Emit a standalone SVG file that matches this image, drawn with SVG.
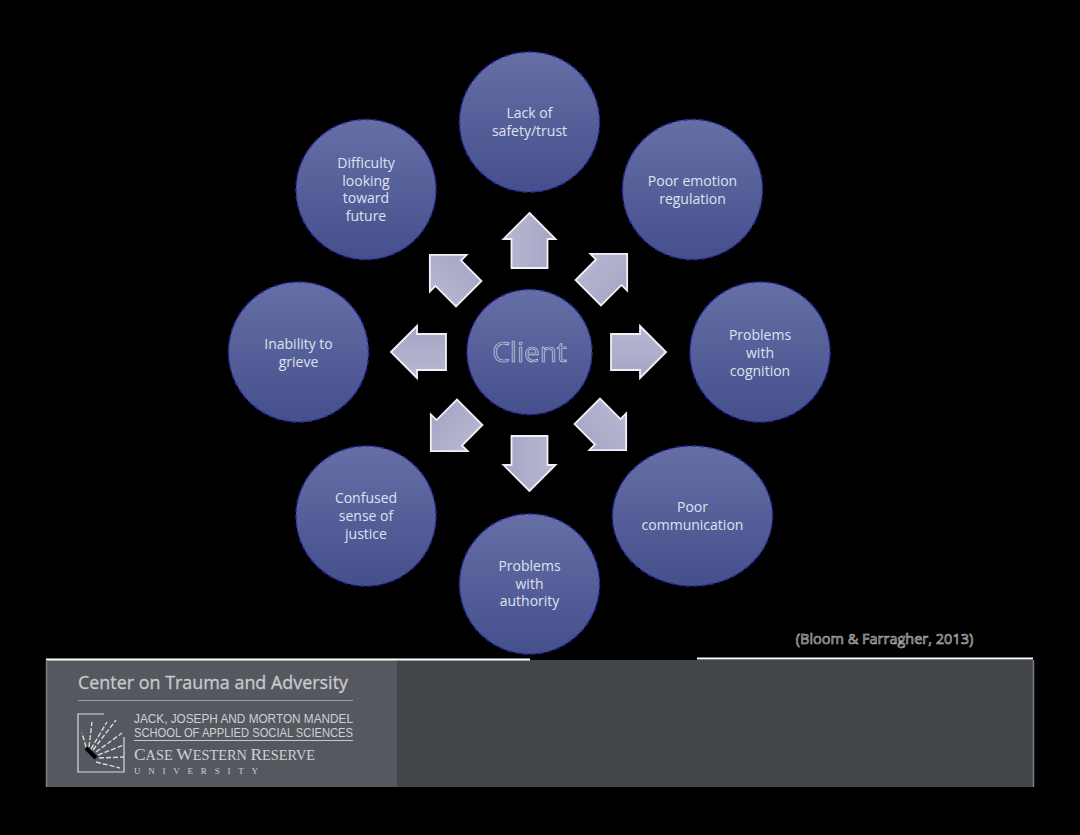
<svg xmlns="http://www.w3.org/2000/svg" width="1080" height="835" viewBox="0 0 1080 835">
<style>
.c{fill:url(#cg);stroke:#2a2aa8;stroke-width:1.5;stroke-dasharray:5 3}
.a{fill:url(#ag);stroke:#f0f0f5;stroke-width:1.8;stroke-linejoin:miter}
.t{font-family:"Open Sans","Noto Sans",sans-serif;font-size:14px;fill:#dfe2ee;text-anchor:middle}
.l{font-family:"Liberation Sans",sans-serif;font-size:12px;fill:#cfd0d4}
</style>
<defs>
<linearGradient id="cg" x1="0" y1="0" x2="0" y2="1"><stop offset="0" stop-color="#666fa5"/><stop offset="1" stop-color="#454f8c"/></linearGradient>
<linearGradient id="ag" x1="0" y1="0" x2="1" y2="0"><stop offset="0" stop-color="#b9b8d2"/><stop offset="1" stop-color="#a5a4c4"/></linearGradient>
<path id="arrow" d="M0 -37 L26 -11 L18 -11 L18 18 L-18 18 L-18 -11 L-26 -11 Z"/>
</defs>
<rect width="1080" height="835" fill="#000"/>
<g id="connectors">
<use href="#arrow" class="a" transform="translate(529.500 250)"/>
<use href="#arrow" class="a" transform="translate(601 280) rotate(45)"/>
<use href="#arrow" class="a" transform="translate(629 352) rotate(90)"/>
<use href="#arrow" class="a" transform="translate(600 424) rotate(135)"/>
<use href="#arrow" class="a" transform="translate(529.500 454) rotate(180)"/>
<use href="#arrow" class="a" transform="translate(457 425) rotate(225)"/>
<use href="#arrow" class="a" transform="translate(428 352) rotate(270)"/>
<use href="#arrow" class="a" transform="translate(456 281) rotate(315)"/>
</g>
<g id="node-client"><circle class="c" cx="529.500" cy="352" r="62.500"/><text x="529.500" y="362" font-family="Open Sans,sans-serif" font-size="28" fill="#5b659f" stroke="#cdd1e4" stroke-width=".7" text-anchor="middle">Client</text></g>
<g id="node-safety"><circle class="c" cx="529.500" cy="122" r="70"/><text class="t" x="529.500" y="118">Lack of</text><text class="t" x="529.500" y="136">safety/trust</text></g>
<g id="node-emotion"><circle class="c" cx="692.500" cy="189.500" r="70"/><text class="t" x="692.500" y="186">Poor emotion</text><text class="t" x="692.500" y="204">regulation</text></g>
<g id="node-cognition"><circle class="c" cx="760" cy="352" r="70"/><text class="t" x="760" y="340">Problems</text><text class="t" x="760" y="358">with</text><text class="t" x="760" y="376">cognition</text></g>
<g id="node-communication"><ellipse class="c" cx="692.500" cy="516" rx="80" ry="70"/><text class="t" x="692.500" y="512">Poor</text><text class="t" x="692.500" y="530">communication</text></g>
<g id="node-authority"><circle class="c" cx="529.500" cy="584" r="70"/><text class="t" x="529.500" y="571">Problems</text><text class="t" x="529.500" y="589">with</text><text class="t" x="529.500" y="606">authority</text></g>
<g id="node-justice"><circle class="c" cx="366" cy="516" r="70"/><text class="t" x="366" y="503">Confused</text><text class="t" x="366" y="521">sense of</text><text class="t" x="366" y="539">justice</text></g>
<g id="node-grieve"><circle class="c" cx="298.500" cy="352" r="70"/><text class="t" x="298.500" y="349">Inability to</text><text class="t" x="298.500" y="367">grieve</text></g>
<g id="node-future"><circle class="c" cx="366" cy="189.500" r="70"/><text class="t" x="366" y="168">Difficulty</text><text class="t" x="366" y="186">looking</text><text class="t" x="366" y="203">toward</text><text class="t" x="366" y="221">future</text></g>
<text x="884.500" y="644" font-family="Open Sans,sans-serif" font-size="14.500" fill="#2e2e34" stroke="#cfcfcf" stroke-width=".55" text-anchor="middle">(Bloom &amp; Farragher, 2013)</text>
<rect x="46" y="660" width="988" height="127" fill="#434649"/>
<rect x="46" y="660" width="351" height="127" fill="#55585f"/>
<path d="M46 659.500H530M697 658.500H1033" stroke="#fff" stroke-width="2" fill="none"/>
<path d="M46.500 660V787M1033.500 660V787" stroke="#7b8088" stroke-width="1.500" fill="none"/>
<text x="78" y="689" font-family="Open Sans,sans-serif" font-size="18.500" fill="#c9cacd" stroke="#c9cacd" stroke-width=".3" textLength="270" lengthAdjust="spacingAndGlyphs">Center on Trauma and Adversity</text>
<path d="M78 700.500H353" stroke="#9a9ca0" stroke-width="1.200"/>
<text class="l" x="134" y="723" textLength="219" lengthAdjust="spacingAndGlyphs">JACK, JOSEPH AND MORTON MANDEL</text>
<text class="l" x="134" y="737" textLength="219" lengthAdjust="spacingAndGlyphs">SCHOOL OF APPLIED SOCIAL SCIENCES</text>
<path d="M134 740.500H353" stroke="#c8c9cc" stroke-width="1.200"/>
<text x="134" y="760" font-family="Liberation Serif,serif" font-size="17" fill="#cfd0d4" textLength="181" lengthAdjust="spacingAndGlyphs">C<tspan font-size="14">ASE </tspan>W<tspan font-size="14">ESTERN </tspan>R<tspan font-size="14">ESERVE</tspan></text>
<text x="134" y="774" font-family="Liberation Serif,serif" font-size="9" fill="#cfd0d4" textLength="124" lengthAdjust="spacing">UNIVERSITY</text>
<g id="logo" fill="none" stroke="#d8d9dc"><path d="M104 714H78V772H124V737" stroke-width="1.200"/><path stroke-width="1.400" stroke-dasharray="5 2" d="M93 750L116 720M91 749L107 722M89 747L92 722M86 747L82 733M96 752L122 733M98 755L124 745M99 758L124 757M96 762L120 768"/></g>
<path d="M86 748L96 758" stroke="#000" stroke-width="4"/>
</svg>
